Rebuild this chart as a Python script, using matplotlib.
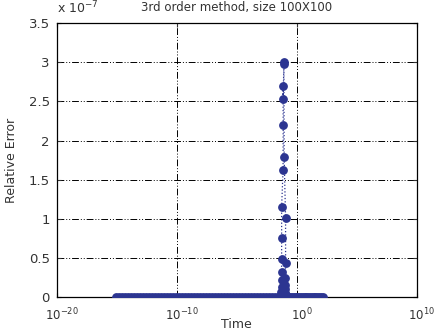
import numpy as np
import matplotlib
matplotlib.use("Agg")
import matplotlib.pyplot as plt
from matplotlib.transforms import ScaledTranslation

# Baseline part: log10(time) exponents and relative error (units of 1e-7)
base_exp_left = [-15.1, -14.85, -14.6, -14.35, -14.1, -13.85, -13.6, -13.35, -13.1, -12.85,
                 -12.6, -12.35, -12.1, -11.85, -11.6, -11.35, -11.1, -10.85, -10.6, -10.35,
                 -10.1, -9.85, -9.6, -9.35, -9.1, -8.85, -8.6, -8.35, -8.1, -7.85,
                 -7.6, -7.35, -7.1, -6.85, -6.6, -6.35, -6.1, -5.85, -5.6, -5.35,
                 -5.1, -4.85, -4.6, -4.35, -4.1, -3.85, -3.6, -3.35, -3.1, -2.85,
                 -2.6, -2.35, -2.1, -1.85, -1.6, -1.45, -1.35]
base_val_left = [0.0] * len(base_exp_left)

# Peak region
peak_exp = [-1.30, -1.29, -1.28, -1.28, -1.275, -1.27, -1.27, -1.27, -1.15, -1.14,
            -1.15, -1.14, -1.08, -1.08, -1.06, -0.94, -0.94, -0.95, -0.96, -1.0,
            -0.97, -0.93, -0.9]
peak_val = [0.02, 0.06, 0.13, 0.22, 0.32, 0.49, 0.76, 1.15, 1.63, 2.20,
            2.70, 2.53, 3.005, 2.98, 1.79, 1.005, 0.43, 0.25, 0.16, 0.10,
            0.05, 0.03, 0.01]

base_exp_right = [-0.85, -0.7, -0.55, -0.4, -0.25, -0.1, 0.05, 0.2, 0.35, 0.5,
                  0.65, 0.8, 0.95, 1.1, 1.25, 1.4, 1.55, 1.7, 1.85, 2.0, 2.17]
base_val_right = [0.0] * len(base_exp_right)

time_exp = base_exp_left + peak_exp + base_exp_right
rel_error_e7 = base_val_left + peak_val + base_val_right
time = [10.0 ** e for e in time_exp]

title = "3rd order method, size 100X100"
xlabel = "Time"
ylabel = "Relative Error"

plt.rcParams['font.family'] = ['DejaVu Sans']
fig = plt.figure(figsize=(4.37, 3.35), dpi=100)
ax = fig.add_axes([0.130, 0.113, 0.824, 0.818])

col = '#2c3591'
ax.plot(time, rel_error_e7, linestyle=':', color=col, lw=0.9,
        marker='o', ms=5.3, mfc=col, mec=col, zorder=3)

ax.set_xscale('log')
ax.set_xlim(1e-20, 1e10)
ax.set_ylim(0, 3.5)
ax.set_xticks([1e-20, 1e-10, 1e0, 1e10])
ax.set_xticklabels(['10$^{-20}$', '10$^{-10}$', '10$^{0}$', '10$^{10}$'])
ax.xaxis.set_minor_locator(matplotlib.ticker.NullLocator())
ax.set_yticks([0, 0.5, 1, 1.5, 2, 2.5, 3, 3.5])
ax.set_yticklabels(['0', '0.5', '1', '1.5', '2', '2.5', '3', '3.5'])
ax.tick_params(direction='in', length=3, labelsize=9.5, colors='#333333',
               top=True, right=True, pad=5)
ax.tick_params(axis='x', pad=7, labelsize=8.5)
for lab in ax.get_xticklabels():
    lab.set_transform(lab.get_transform() + ScaledTranslation(3.5 / 72, 0, fig.dpi_scale_trans))

ax.grid(True, color='black', lw=0.7, linestyle=(0, (7, 2, 1, 2, 1, 2)))
for s in ax.spines.values():
    s.set_linewidth(0.9)

ax.set_title(title, fontsize=8.5, color='#333333', pad=9)
ax.set_xlabel(xlabel, fontsize=9, color='#333333', labelpad=-4)
ax.set_ylabel(ylabel, fontsize=9, color='#333333', labelpad=8)
ax.text(0.0, 1.025, 'x 10$^{-7}$', transform=ax.transAxes, fontsize=9,
        color='#333333', ha='left', va='bottom')

fig.savefig('out.png', dpi=100)
